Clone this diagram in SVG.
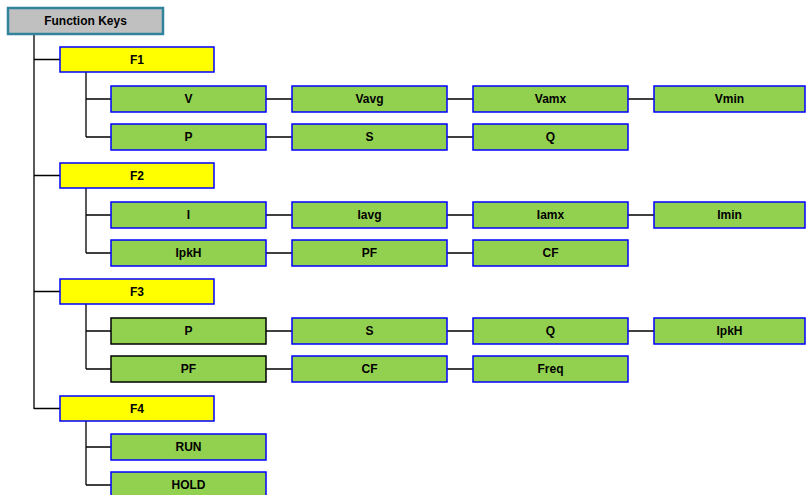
<svg xmlns="http://www.w3.org/2000/svg" width="806" height="495" viewBox="0 0 806 495">
<style>
text{font-family:"Liberation Sans",Arial,sans-serif;font-weight:bold;font-size:12px;fill:#000;text-anchor:middle;dominant-baseline:central}
.root{fill:#C0C0C0;stroke:#31849B;stroke-width:2.5}
.f{fill:#FFFF00;stroke:#0000FF;stroke-width:1.5}
.g{fill:#92D050;stroke:#0000FF;stroke-width:1.5}
.gk{fill:#92D050;stroke:#000;stroke-width:1.5}
.c{stroke:#000;stroke-width:1.3;fill:none}
</style>
<g id="connectors">
<path class="c" d="M34 34V409M34 59.5H60M34 175.5H60M34 291.5H60M34 408.5H60"/>
<path class="c" d="M86 72V137M86 99H111M86 137H111M86 188V253M86 215H111M86 253H111M86 304V369M86 331H111M86 369H111M86 421V485M86 447H111M86 485H111"/>
<path class="c" d="M266 99H292M447 99H473M628 99H654M266 137H292M447 137H473M266 215H292M447 215H473M628 215H654M266 253H292M447 253H473M266 331H292M447 331H473M628 331H654M266 369H292M447 369H473"/>
</g>
<g id="root"><rect class="root" x="8" y="8" width="155" height="26"/><text x="85.5" y="21">Function Keys</text></g>
<g id="F1"><rect class="f" x="60" y="47" width="154" height="25"/><text x="137" y="59.5">F1</text></g>
<g id="F1-V"><rect class="g" x="111" y="86" width="155" height="26"/><text x="188.5" y="99">V</text></g>
<g id="F1-Vavg"><rect class="g" x="292" y="86" width="155" height="26"/><text x="369.5" y="99">Vavg</text></g>
<g id="F1-Vamx"><rect class="g" x="473" y="86" width="155" height="26"/><text x="550.5" y="99">Vamx</text></g>
<g id="F1-Vmin"><rect class="g" x="654" y="86" width="151" height="26"/><text x="729.5" y="99">Vmin</text></g>
<g id="F1-P"><rect class="g" x="111" y="124" width="155" height="26"/><text x="188.5" y="137">P</text></g>
<g id="F1-S"><rect class="g" x="292" y="124" width="155" height="26"/><text x="369.5" y="137">S</text></g>
<g id="F1-Q"><rect class="g" x="473" y="124" width="155" height="26"/><text x="550.5" y="137">Q</text></g>
<g id="F2"><rect class="f" x="60" y="163" width="154" height="25"/><text x="137" y="175.5">F2</text></g>
<g id="F2-I"><rect class="g" x="111" y="202" width="155" height="26"/><text x="188.5" y="215">I</text></g>
<g id="F2-Iavg"><rect class="g" x="292" y="202" width="155" height="26"/><text x="369.5" y="215">Iavg</text></g>
<g id="F2-Iamx"><rect class="g" x="473" y="202" width="155" height="26"/><text x="550.5" y="215">Iamx</text></g>
<g id="F2-Imin"><rect class="g" x="654" y="202" width="151" height="26"/><text x="729.5" y="215">Imin</text></g>
<g id="F2-IpkH"><rect class="g" x="111" y="240" width="155" height="26"/><text x="188.5" y="253">IpkH</text></g>
<g id="F2-PF"><rect class="g" x="292" y="240" width="155" height="26"/><text x="369.5" y="253">PF</text></g>
<g id="F2-CF"><rect class="g" x="473" y="240" width="155" height="26"/><text x="550.5" y="253">CF</text></g>
<g id="F3"><rect class="f" x="60" y="279" width="154" height="25"/><text x="137" y="291.5">F3</text></g>
<g id="F3-P"><rect class="gk" x="111" y="318" width="155" height="26"/><text x="188.5" y="331">P</text></g>
<g id="F3-S"><rect class="g" x="292" y="318" width="155" height="26"/><text x="369.5" y="331">S</text></g>
<g id="F3-Q"><rect class="g" x="473" y="318" width="155" height="26"/><text x="550.5" y="331">Q</text></g>
<g id="F3-IpkH"><rect class="g" x="654" y="318" width="151" height="26"/><text x="729.5" y="331">IpkH</text></g>
<g id="F3-PF"><rect class="gk" x="111" y="356" width="155" height="26"/><text x="188.5" y="369">PF</text></g>
<g id="F3-CF"><rect class="g" x="292" y="356" width="155" height="26"/><text x="369.5" y="369">CF</text></g>
<g id="F3-Freq"><rect class="g" x="473" y="356" width="155" height="26"/><text x="550.5" y="369">Freq</text></g>
<g id="F4"><rect class="f" x="60" y="396" width="154" height="25"/><text x="137" y="408.5">F4</text></g>
<g id="F4-RUN"><rect class="g" x="111" y="434" width="155" height="26"/><text x="188.5" y="447">RUN</text></g>
<g id="F4-HOLD"><rect class="g" x="111" y="472" width="155" height="26"/><text x="188.5" y="485">HOLD</text></g>
</svg>
